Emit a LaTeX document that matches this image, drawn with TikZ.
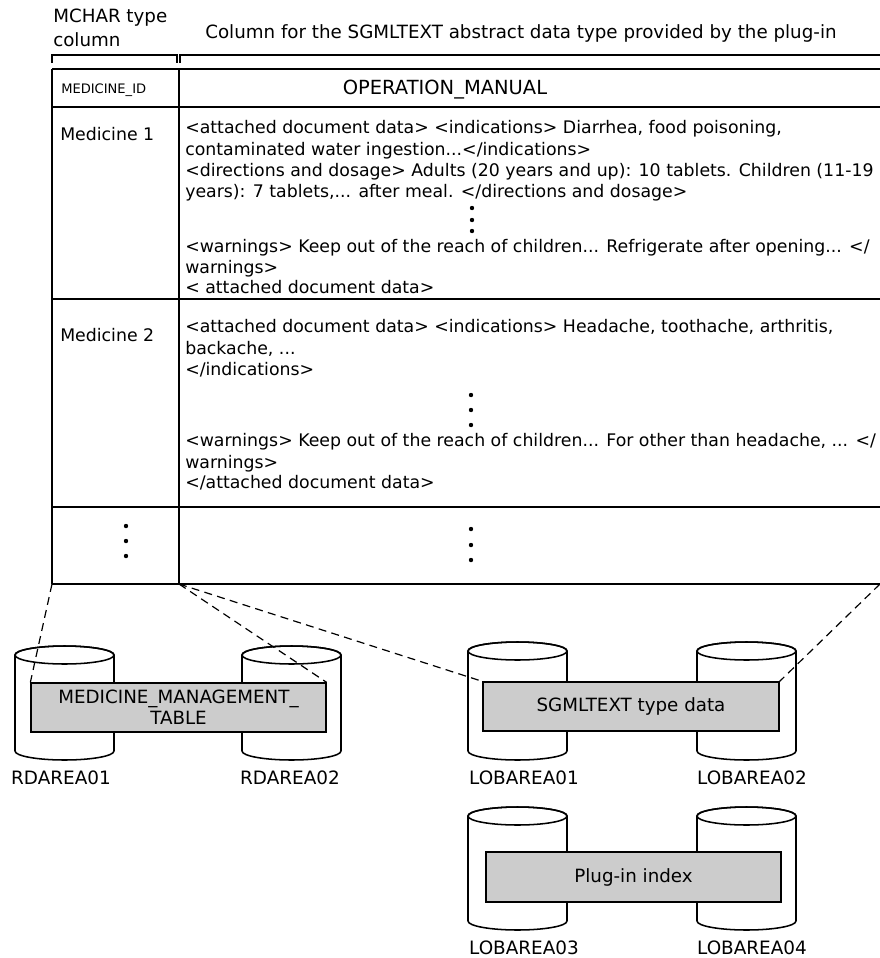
\documentclass[tikz,border=0pt]{standalone}
\usepackage{fontspec}
\setmainfont{DejaVu Sans}
\begin{document}
\begin{tikzpicture}[x=0.75pt,y=-0.75pt,
  rule/.style={line width=1.15pt},
  txt/.style={inner sep=0pt, anchor=base west, font=\fontsize{13}{15}\selectfont},
  captxt/.style={inner sep=0pt, anchor=base west, font=\fontsize{13.7}{16}\selectfont},
  lbltxt/.style={inner sep=0pt, anchor=base, font=\fontsize{13.8}{16}\selectfont},
  headtxt/.style={inner sep=0pt, anchor=base, font=\fontsize{14.6}{17}\selectfont},
  smalltxt/.style={inner sep=0pt, anchor=base west, font=\fontsize{9.8}{11}\selectfont},
  areabox/.style={draw, line width=0.95pt, fill=black!20, inner sep=0pt, align=center,
    font=\fontsize{13.7}{15.5}\selectfont},
  link/.style={dash pattern=on 6pt off 4pt, line width=0.9pt},
  dotmark/.style={circle, fill=black, inner sep=0pt, minimum size=3.3pt},
]
\useasboundingbox (0,0) rectangle (880,958);

% ---------- column captions and brackets ----------
\node[captxt] (cap1a) at (53,22) {MCHAR type};
\node[captxt] (cap1b) at (53,46) {column};
\node[captxt] (cap2) at (205,38) {Column for the SGMLTEXT abstract data type provided by the plug-in};
\draw[rule] (52,63) -- (52,55) -- (177,55) -- (177,63);
\draw[rule] (180,63) -- (180,55) -- (880,55);

% ---------- table grid ----------
\coordinate (tbl-tl) at (52,69);
\coordinate (tbl-bl) at (52,584);
\coordinate (tbl-bm) at (179,584);
\coordinate (tbl-br) at (880,584);
\draw[rule] (52,69) -- (880,69);
\draw[rule] (52,107) -- (880,107);
\draw[rule] (52,299) -- (880,299);
\draw[rule] (52,507) -- (880,507);
\draw[rule] (tbl-bl) -- (tbl-br);
\draw[rule] (tbl-tl) -- (tbl-bl);
\draw[rule] (179,69) -- (tbl-bm);

% header row
\node[smalltxt] (hid) at (61,93) {MEDICINE\_ID};
\node[headtxt] (hman) at (445,94) {OPERATION\_MANUAL};

% row: Medicine 1
\node[txt] (m1) at (60,140) {Medicine 1};
\node[txt] (m1a) at (185,133) {<attached document data> <indications> Diarrhea, food poisoning,};
\node[txt] (m1b) at (185,155) {contaminated water ingestion...</indications>};
\node[txt] (m1c) at (185,176) {<directions and dosage> Adults (20 years and up): 10 tablets. Children (11-19};
\node[txt] (m1d) at (185,197) {years): 7 tablets,... after meal. </directions and dosage>};
\node[dotmark] (m1p1) at (472,208) {};
\node[dotmark] (m1p2) at (472,220) {};
\node[dotmark] (m1p3) at (472,231) {};
\node[txt] (m1e) at (185,252) {<warnings> Keep out of the reach of children... Refrigerate after opening... </};
\node[txt] (m1f) at (185,273) {warnings>};
\node[txt] (m1g) at (185,293) {< attached document data>};

% row: Medicine 2
\node[txt] (m2) at (60,341) {Medicine 2};
\node[txt] (m2a) at (185,332) {<attached document data> <indications> Headache, toothache, arthritis,};
\node[txt] (m2b) at (185,354) {backache, ...};
\node[txt] (m2c) at (185,375) {</indications>};
\node[dotmark] (m2p1) at (471,395) {};
\node[dotmark] (m2p2) at (471,410) {};
\node[dotmark] (m2p3) at (471,425) {};
\node[txt] (m2d) at (185,446) {<warnings> Keep out of the reach of children... For other than headache, ... </};
\node[txt] (m2e) at (185,468) {warnings>};
\node[txt] (m2f) at (185,488) {</attached document data>};

% row: further entries
\node[dotmark] (r3p1) at (126,526) {};
\node[dotmark] (r3p2) at (126,541) {};
\node[dotmark] (r3p3) at (126,556) {};
\node[dotmark] (r3q1) at (471,529) {};
\node[dotmark] (r3q2) at (471,545) {};
\node[dotmark] (r3q3) at (471,560) {};

% ---------- storage drums ----------
\newcommand\drum[3]{% #1 left x, #2 top centre y, #3 bottom centre y
  \filldraw[fill=white, rule] (#1,#2) -- (#1,#3)
    arc[start angle=180, end angle=0, x radius=49.5, y radius=9]
    -- ({#1+99},#2)
    arc[start angle=0, end angle=-180, x radius=49.5, y radius=9] -- cycle;
  \draw[rule] ({#1+49.5},#2) ellipse[x radius=49.5, y radius=9];
}
\drum{15}{655}{751}
\drum{242}{655}{751}
\drum{468}{651}{751}
\drum{697}{651}{751}
\drum{468}{816}{921}
\drum{697}{816}{921}

% ---------- data boxes ----------
\node[areabox, minimum width=221.25pt, minimum height=36.75pt] (rdbox) at (178.5,707.5)
  {MEDICINE\_MANAGEMENT\_\\TABLE};
\node[areabox, minimum width=222pt, minimum height=36.75pt] (lobbox) at (631,706.5)
  {SGMLTEXT type data};
\node[areabox, minimum width=221.25pt, minimum height=37.5pt] (idxbox) at (633.5,877)
  {Plug-in index};

% ---------- links from the table to the areas ----------
\draw[link] (tbl-bl) -- (rdbox.north west);
\draw[link] (tbl-bm) -- (rdbox.north east);
\draw[link] (tbl-bm) -- (lobbox.north west);
\draw[link] (tbl-br) -- (lobbox.north east);

% ---------- area names ----------
\node[lbltxt] (rd1) at (61,784) {RDAREA01};
\node[lbltxt] (rd2) at (290,784) {RDAREA02};
\node[lbltxt] (lob1) at (524,784) {LOBAREA01};
\node[lbltxt] (lob2) at (752,784) {LOBAREA02};
\node[lbltxt] (lob3) at (524,954) {LOBAREA03};
\node[lbltxt] (lob4) at (752,954) {LOBAREA04};
\end{tikzpicture}
\end{document}
